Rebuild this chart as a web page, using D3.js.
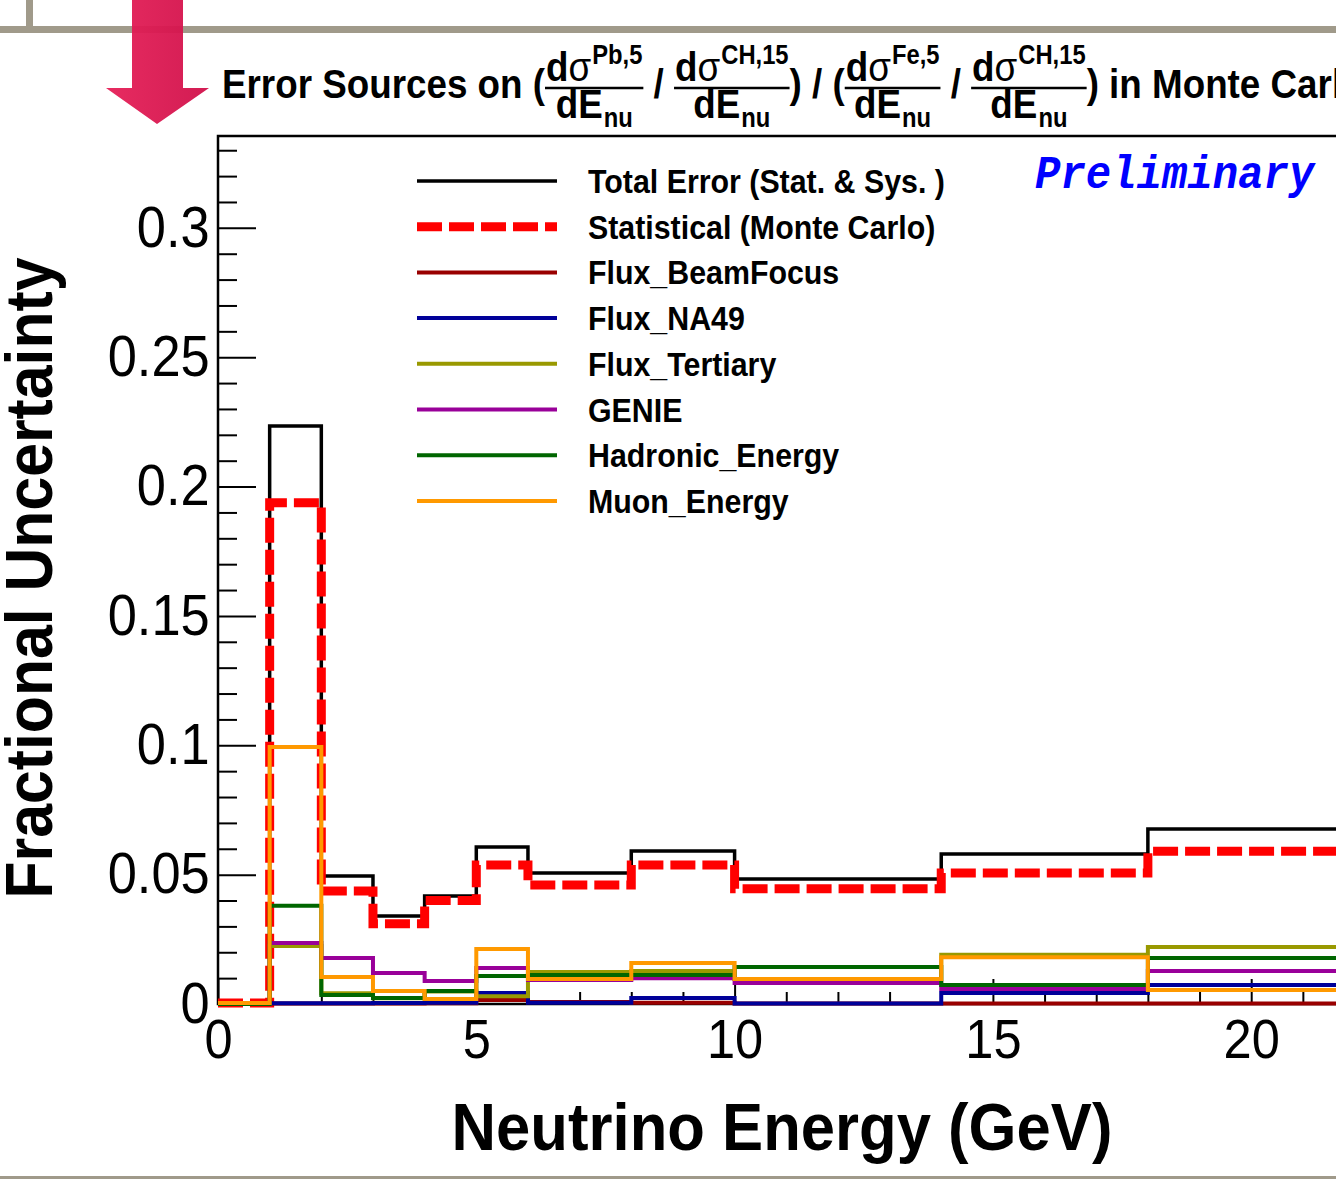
<!DOCTYPE html>
<html>
<head>
<meta charset="utf-8">
<script src="https://cdn.jsdelivr.net/npm/d3@7"></script>
<style>
  body { margin: 0; background: #fff; }
  svg { display: block; }
</style>
</head>
<body>
<svg id="chart"></svg>
<script>
// ---- data ----
const binEdges = [0, 1, 2, 3, 4, 5, 6, 8, 10, 14, 18, 22];

const totalError   = [0.0000, 0.2234, 0.0495, 0.0340, 0.0417, 0.0607, 0.0506, 0.0591, 0.0483, 0.0580, 0.0676];
const statMC       = [0.0004, 0.1937, 0.0437, 0.0310, 0.0400, 0.0537, 0.0460, 0.0537, 0.0445, 0.0506, 0.0590];
const beamFocus    = [0.0000, 0.0002, 0.0002, 0.0002, 0.0003, 0.0015, 0.0008, 0.0005, 0.0002, 0.0002, 0.0002];
const na49         = [0.0000, 0.0003, 0.0003, 0.0004, 0.0005, 0.0043, 0.0005, 0.0023, 0.0002, 0.0043, 0.0073];
const tertiary     = [0.0000, 0.0224, 0.0042, 0.0022, 0.0048, 0.0030, 0.0124, 0.0128, 0.0097, 0.0190, 0.0220];
const genie        = [0.0000, 0.0236, 0.0178, 0.0120, 0.0089, 0.0139, 0.0093, 0.0100, 0.0081, 0.0058, 0.0128];
const hadronic     = [0.0000, 0.0380, 0.0035, 0.0023, 0.0050, 0.0108, 0.0112, 0.0112, 0.0143, 0.0073, 0.0178];
const muonEnergy   = [0.0004, 0.0993, 0.0104, 0.0050, 0.0019, 0.0213, 0.0097, 0.0158, 0.0097, 0.0181, 0.0054];

const seriesNames  = ['Total Error (Stat. & Sys. )', 'Statistical (Monte Carlo)', 'Flux_BeamFocus',
                      'Flux_NA49', 'Flux_Tertiary', 'GENIE', 'Hadronic_Energy', 'Muon_Energy'];
const seriesValues = [totalError, statMC, beamFocus, na49, tertiary, genie, hadronic, muonEnergy];
const seriesColors = ['#000000', '#ff0000', '#990000', '#000099', '#999900', '#990099', '#006600', '#ff9900'];

const yMajorTicks  = [0, 0.05, 0.1, 0.15, 0.2, 0.25, 0.3];
const yTickLabels  = ['0', '0.05', '0.1', '0.15', '0.2', '0.25', '0.3'];
const xMajorTicks  = [0, 5, 10, 15, 20];
const xTickLabels  = ['0', '5', '10', '15', '20'];

// ---- layout ----
const W = 1336, H = 1179;
const SX = 0.92;   // text in the picture is slightly narrowed
const FONT = "'Liberation Sans', Arial, Helvetica, sans-serif";
const NB = '\u00a0';
const plot = { left: 218, top: 136, bottom: 1004, right: 218 + 22 * 51.66 };

const svg = d3.select('#chart').attr('width', W).attr('height', H);

const x = d3.scaleLinear().domain([0, 22]).range([plot.left, plot.right]);
const y = d3.scaleLinear().domain([0, 0.3355]).range([plot.bottom, plot.top]);

// slide decoration: grey rules
svg.append('rect').attr('x', 0).attr('y', 26).attr('width', W).attr('height', 7).attr('fill', '#a09a8a');
svg.append('rect').attr('x', 26).attr('y', 0).attr('width', 7).attr('height', 30).attr('fill', '#a09a8a');
svg.append('rect').attr('x', 0).attr('y', 1176).attr('width', W).attr('height', 3).attr('fill', '#a09a8a');

// red arrow
const grad = svg.append('defs').append('linearGradient').attr('id', 'arrowGrad')
  .attr('x1', '0%').attr('x2', '100%');
grad.append('stop').attr('offset', '0%').attr('stop-color', '#e62058');
grad.append('stop').attr('offset', '100%').attr('stop-color', '#d0104a');
svg.append('path')
  .attr('d', 'M132,0 L183,0 L183,88 L209,88 L157,124 L106,88 L132,88 Z')
  .attr('fill', 'url(#arrowGrad)').attr('opacity', 0.95);

// helper for narrowed text
function txt(parent, tx, ty, str, size, weight, anchor) {
  return parent.append('text')
    .attr('transform', `translate(${tx},${ty}) scale(${SX},1)`)
    .attr('font-family', FONT).attr('font-size', size)
    .attr('font-weight', weight || 'normal')
    .attr('text-anchor', anchor || 'start')
    .text(str);
}

// ---- title with fractions ----
const title = svg.append('g');
let cursor = 222;
const base = 98, tSize = 40, supSize = 27;
const SXS = 0.88;   // superscripts look narrower still

function putText(str) {
  const t = txt(title, cursor, base, str.replace(/ /g, NB), tSize, 'bold');
  cursor += t.node().getComputedTextLength() * SX;
}
function putPair(str1, str2, size1, size2, dy, ty, sigma) {
  // main text and a raised / lowered small text beside it
  const g = title.append('g');
  const a = g.append('text').attr('font-family', FONT).attr('font-weight', 'bold').attr('font-size', size1);
  a.append('tspan').text(str1);
  if (sigma) a.append('tspan').attr('font-weight', 'normal').text('σ');
  const wa = a.node().getComputedTextLength() * SX;
  a.attr('transform', `scale(${SX},1)`);
  const b = g.append('text').attr('font-family', FONT).attr('font-weight', 'bold').attr('font-size', size2)
    .attr('transform', `translate(${wa + 1},${dy}) scale(${SXS},1)`).text(str2);
  const wb = b.node().getComputedTextLength() * SXS;
  return { g, w: wa + 1 + wb, ty };
}
function putFrac(sup) {
  const num = putPair('d', sup, tSize, supSize, -17, 81, true);
  const den = putPair('dE', 'nu', tSize, supSize, 9, 118, false);
  const w = Math.max(num.w, den.w) + 2;
  num.g.attr('transform', `translate(${cursor + (w - num.w) / 2},${num.ty})`);
  den.g.attr('transform', `translate(${cursor + (w - den.w) / 2},${den.ty})`);
  title.append('line').attr('x1', cursor).attr('x2', cursor + w)
    .attr('y1', 88).attr('y2', 88).attr('stroke', '#000').attr('stroke-width', 2.5);
  cursor += w;
}
putText('Error Sources on (');
putFrac('Pb,5');
putText(' / ');
putFrac('CH,15');
putText(') / (');
putFrac('Fe,5');
putText(' / ');
putFrac('CH,15');
putText(') in Monte Carlo');

// ---- axes ----
const yMinor = d3.range(0, 0.335, 0.01).filter(v => !yMajorTicks.some(m => Math.abs(m - v) < 1e-6));
const xMinor = d3.range(0, 22, 1).filter(v => !xMajorTicks.includes(v));

svg.append('g').attr('transform', `translate(${plot.left},0)`)
  .call(d3.axisLeft(y).tickValues(yMinor).tickSizeInner(-19).tickSizeOuter(0).tickFormat(''))
  .call(g => g.select('.domain').remove())
  .call(g => g.selectAll('line').attr('stroke', '#000').attr('stroke-width', 2));

svg.append('g').attr('transform', `translate(${plot.left},0)`)
  .call(d3.axisLeft(y).tickValues(yMajorTicks).tickSizeInner(-38).tickSizeOuter(0).tickPadding(9)
    .tickFormat((d, i) => yTickLabels[i]))
  .call(g => g.select('.domain').remove())
  .call(g => g.selectAll('line').attr('stroke', '#000').attr('stroke-width', 2))
  .call(g => g.selectAll('text').attr('font-family', FONT).attr('font-size', 57).attr('fill', '#000')
    .attr('transform', `scale(${SX},1)`));

svg.append('g').attr('transform', `translate(0,${plot.bottom})`)
  .call(d3.axisBottom(x).tickValues(xMinor).tickSizeInner(-12).tickSizeOuter(0).tickFormat(''))
  .call(g => g.select('.domain').remove())
  .call(g => g.selectAll('line').attr('stroke', '#000').attr('stroke-width', 2));

svg.append('g').attr('transform', `translate(0,${plot.bottom})`)
  .call(d3.axisBottom(x).tickValues(xMajorTicks).tickSizeInner(-25).tickSizeOuter(0).tickPadding(15)
    .tickFormat((d, i) => xTickLabels[i]))
  .call(g => g.select('.domain').remove())
  .call(g => g.selectAll('line').attr('stroke', '#000').attr('stroke-width', 2))
  .call(g => g.selectAll('text').attr('font-family', FONT).attr('font-size', 55).attr('fill', '#000')
    .attr('transform', `scale(${SX},1)`));

// frame
svg.append('path')
  .attr('d', `M${W + 10},${plot.top} L${plot.left},${plot.top} L${plot.left},${plot.bottom} L${W + 10},${plot.bottom}`)
  .attr('fill', 'none').attr('stroke', '#000').attr('stroke-width', 2.5);

// ---- histograms ----
const step = d3.line().x(d => x(d[0])).y(d => y(d[1])).curve(d3.curveStepAfter);
function histPoints(vals) {
  const pts = vals.map((v, i) => [binEdges[i], v]);
  pts.push([binEdges[binEdges.length - 1], vals[vals.length - 1]]);
  return pts;
}

seriesValues.forEach((vals, i) => {
  const p = svg.append('path')
    .attr('d', step(histPoints(vals)))
    .attr('fill', 'none')
    .attr('stroke', seriesColors[i])
    .attr('stroke-width', i === 1 ? 9 : (i === 0 ? 3.5 : 4));
  if (i === 1) p.attr('stroke-dasharray', '25,7');
});

// ---- legend ----
const legend = svg.append('g');
seriesNames.forEach((name, i) => {
  const cy = 181 + i * 45.7;
  const l = legend.append('line').attr('x1', 417).attr('x2', 557).attr('y1', cy).attr('y2', cy)
    .attr('stroke', seriesColors[i]).attr('stroke-width', i === 1 ? 9 : (i === 0 ? 3.5 : 4));
  if (i === 1) l.attr('stroke-dasharray', '25,7');
  txt(legend, 588, cy + 12, name, 33, 'bold');
});

// Preliminary tag
svg.append('text')
  .attr('transform', `translate(1035,188) scale(${SX},1)`)
  .attr('font-family', "'Liberation Mono', 'Courier New', monospace")
  .attr('font-weight', 'bold').attr('font-style', 'italic')
  .attr('font-size', 46).attr('fill', '#0000ff')
  .text('Preliminary');

// axis titles
txt(svg, 782, 1150, 'Neutrino Energy (GeV)', 67, 'bold', 'middle');
svg.append('text')
  .attr('transform', `translate(52,578) rotate(-90) scale(${SX},1)`)
  .attr('font-family', FONT).attr('font-size', 66).attr('font-weight', 'bold')
  .attr('text-anchor', 'middle')
  .text('Fractional Uncertainty');
</script>
</body>
</html>
